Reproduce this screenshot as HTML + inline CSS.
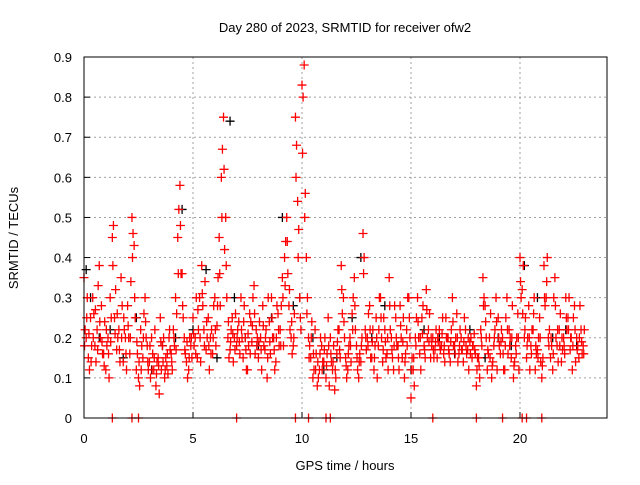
<!DOCTYPE html>
<html><head><meta charset="utf-8"><style>
body{margin:0;background:#fff;width:640px;height:480px;overflow:hidden}
svg{font-family:"Liberation Sans",sans-serif;font-size:13px}
</style></head><body>
<svg id="chart" width="640" height="480">
<text x="345" y="32" text-anchor="middle">Day 280 of 2023, SRMTID for receiver ofw2</text>
<text x="345" y="470" text-anchor="middle">GPS time / hours</text>
<text transform="translate(18,238) rotate(-90)" text-anchor="middle">SRMTID / TECUs</text>
<g id="grid"></g>
<g id="ticks"></g>
<g id="marks"></g>
<rect x="84" y="57" width="523" height="361" fill="none" stroke="#000"/>
</svg>
<script>
const xTicks=[0,5,10,15,20];
const yTicks=[0,0.1,0.2,0.3,0.4,0.5,0.6,0.7,0.8,0.9];
const yTickLabels=["0","0.1","0.2","0.3","0.4","0.5","0.6","0.7","0.8","0.9"];
const redA=[0.35,0.2,0.15,0.25,0.3,0.18,0.22,0.38,0.28,0.16,
0.12,0.2,0.3,0.45,0.25,0.17,0.22,0.35,0.14,0.2,
0.28,0.16,0.5,0.43,0.12,0.1,0.22,0.15,0.3,0.18,
0.14,0.2,0.12,0.08,0.15,0.25,0.18,0.1,0.13,0.2,
0.16,0.22,0.3,0.45,0.58,0.36,0.2,0.14,0.12,0.18,
0.25,0.2,0.15,0.3,0.38,0.22,0.17,0.25,0.2,0.16,
0.3,0.23,0.45,0.6,0.75,0.5,0.2,0.17,0.25,0.2,
0.18,0.24,0.3,0.15,0.2,0.12,0.26,0.19,0.33,0.22,
0.15,0.2,0.28,0.17,0.1,0.24,0.3,0.2,0.14,0.26,
0.22,0.35,0.4,0.5,0.28,0.2,0.18,0.75,0.54,0.3,
0.83,0.88,0.4,0.2,0.15,0.1,0.22,0.08,0.12,0.18,
0.14,0.1,0.25,0.2,0.12,0.07,0.16,0.22,0.38,0.3,
0.15,0.12,0.2,0.26,0.35,0.18,0.1,0.14,0.46,0.22,
0.2,0.28,0.15,0.12,0.25,0.18,0.3,0.14,0.22,0.16,
0.35,0.2,0.12,0.25,0.18,0.28,0.15,0.1,0.22,0.3,
0.05,0.12,0.2,0.3,0.16,0.25,0.18,0.32,0.22,0.15,
0.2,0.17,0.15,0.22,0.18,0.16,0.25,0.2,0.14,0.3,
0.18,0.26,0.16,0.2,0.14,0.22,0.17,0.19,0.15,0.21,
0.08,0.15,0.22,0.35,0.28,0.12,0.2,0.1,0.18,0.3,
0.25,0.16,0.2,0.12,0.3,0.22,0.15,0.1,0.18,0.26,
0.4,0.32,0.2,0.15,0.28,0.18,0.22,0.12,0.17,0.25,
0.1,0.38,0.3,0.2,0.15,0.12,0.35,0.18,0.22,0.14,
0.2,0.3,0.25,0.17,0.12,0.28,0.2,0.15,0.22,0.18];
const redB=[0.22,0.3,0.12,0.18,0.26,0.14,0.33,0.2,0.16,0.24,
0.18,0.1,0.25,0.48,0.32,0.2,0.14,0.28,0.22,0.12,
0.2,0.34,0.46,0.25,0.16,0.08,0.18,0.26,0.2,0.12,
0.1,0.16,0.22,0.14,0.06,0.12,0.2,0.15,0.11,0.17,
0.12,0.18,0.26,0.52,0.36,0.25,0.16,0.1,0.2,0.15,
0.18,0.3,0.22,0.14,0.28,0.34,0.2,0.12,0.22,0.28,
0.18,0.35,0.28,0.67,0.42,0.3,0.15,0.22,0.14,0.26,
0.22,0.16,0.2,0.28,0.12,0.18,0.24,0.3,0.16,0.2,
0.24,0.12,0.18,0.22,0.3,0.16,0.2,0.12,0.28,0.18,
0.28,0.18,0.44,0.36,0.22,0.16,0.26,0.68,0.47,0.22,
0.8,0.56,0.3,0.18,0.24,0.12,0.16,0.1,0.2,0.14,
0.2,0.16,0.08,0.14,0.18,0.1,0.22,0.15,0.26,0.2,
0.1,0.18,0.14,0.3,0.22,0.12,0.16,0.2,0.4,0.17,
0.26,0.15,0.22,0.18,0.1,0.3,0.2,0.25,0.15,0.12,
0.22,0.15,0.28,0.18,0.12,0.2,0.25,0.16,0.3,0.2,
0.15,0.08,0.25,0.2,0.12,0.28,0.15,0.2,0.26,0.18,
0.15,0.22,0.19,0.17,0.25,0.14,0.2,0.16,0.22,0.18,
0.2,0.14,0.22,0.17,0.25,0.16,0.12,0.2,0.18,0.16,
0.15,0.1,0.18,0.3,0.2,0.16,0.26,0.14,0.22,0.12,
0.18,0.22,0.12,0.25,0.16,0.2,0.28,0.14,0.2,0.12,
0.3,0.38,0.25,0.2,0.12,0.22,0.3,0.16,0.2,0.14,
0.15,0.28,0.4,0.22,0.18,0.3,0.2,0.14,0.26,0.17,
0.16,0.22,0.3,0.2,0.25,0.14,0.18,0.28,0.16,0.22];
const redC=[0.18,0.25,0.21,0.14,0.2,0.27,0.17,0.24,0.19,0.13,
0.22,0.16,0.19,0.38,0.21,0.26,0.17,0.2,0.25,0.16,
0.23,0.2,0.4,0.3,0.19,0.14,0.12,0.2,0.24,0.14,
0.18,0.12,0.15,0.11,0.13,0.19,0.14,0.12,0.16,0.22,
0.14,0.2,0.17,0.36,0.48,0.28,0.17,0.19,0.15,0.2,
0.21,0.16,0.27,0.2,0.31,0.18,0.24,0.18,0.16,0.2,
0.22,0.28,0.36,0.5,0.62,0.38,0.24,0.19,0.21,0.17,
0.2,0.19,0.22,0.24,0.17,0.21,0.16,0.23,0.26,0.18,
0.19,0.17,0.23,0.2,0.15,0.19,0.25,0.17,0.2,0.22,
0.18,0.3,0.33,0.44,0.32,0.24,0.2,0.6,0.4,0.25,
0.66,0.5,0.26,0.15,0.2,0.16,0.12,0.14,0.16,0.12,
0.17,0.13,0.18,0.16,0.14,0.12,0.19,0.17,0.32,0.24,
0.13,0.16,0.18,0.22,0.28,0.15,0.14,0.18,0.36,0.2,
0.18,0.22,0.19,0.15,0.2,0.22,0.25,0.17,0.19,0.2,
0.28,0.17,0.18,0.2,0.15,0.23,0.19,0.14,0.18,0.25,
0.12,0.15,0.18,0.24,0.2,0.21,0.17,0.27,0.19,0.2,
0.17,0.19,0.2,0.18,0.21,0.18,0.2,0.17,0.19,0.24,
0.16,0.2,0.18,0.17,0.19,0.18,0.2,0.16,0.18,0.17,
0.12,0.13,0.2,0.28,0.24,0.17,0.15,0.13,0.2,0.24,
0.2,0.19,0.16,0.18,0.22,0.18,0.2,0.13,0.16,0.2,
0.34,0.26,0.22,0.18,0.2,0.16,0.26,0.18,0.15,0.2,
0.13,0.3,0.34,0.18,0.2,0.16,0.28,0.22,0.18,0.2,
0.18,0.25,0.22,0.2,0.18,0.22,0.17,0.2,0.19,0.16];
const blackT=[0.1,0.3,0.7,1.2,1.8,2.4,3.1,3.6,4.2,4.5,5.0,5.6,6.1,6.7,6.9,7.4,8.0,8.6,9.1,9.6,9.9,10.5,11.0,11.6,12.3,12.7,13.2,13.8,14.4,15.0,15.6,16.3,17.0,17.7,18.4,19.0,19.6,20.2,20.8,21.5,22.1,22.6];
const blackV=[0.37,0.3,0.2,0.22,0.15,0.25,0.12,0.18,0.2,0.52,0.22,0.37,0.15,0.74,0.3,0.2,0.18,0.25,0.5,0.28,0.3,0.2,0.12,0.15,0.25,0.4,0.2,0.28,0.18,0.12,0.22,0.2,0.16,0.22,0.15,0.2,0.18,0.38,0.3,0.2,0.22,0.18];
const zeroT=[1.3,2.2,2.5,7.0,9.7,10.3,11.1,11.3,16.0,18.0,19.2,20.1,20.3,21.0];
const X=t=>84+t*21.8, Y=v=>418-v*401.1;
const NS="http://www.w3.org/2000/svg";
const grid=document.getElementById('grid'),ticks=document.getElementById('ticks'),marks=document.getElementById('marks');
function mk(tag,attrs,parent){const e=document.createElementNS(NS,tag);for(const k in attrs)e.setAttribute(k,attrs[k]);parent.appendChild(e);return e;}
xTicks.forEach(t=>{
 if(t>0){const g=mk('line',{x1:X(t),x2:X(t),y1:57,y2:418,stroke:'#a0a0a0','stroke-dasharray':'2,3'},grid);
 
 }
 const l=mk('text',{x:X(t),y:443,'text-anchor':'middle'},ticks);l.textContent=t;
 
 
 mk('line',{x1:X(t),x2:X(t),y1:418,y2:412,stroke:'#000'},ticks);
});
yTicks.forEach((v,i)=>{
 if(v>0&&v<0.9){const g=mk('line',{x1:84,x2:607,y1:Y(v),y2:Y(v),stroke:'#a0a0a0','stroke-dasharray':'2,3'},grid);
 
 }
 const l=mk('text',{x:72,y:Y(v)+5,'text-anchor':'end'},ticks);l.textContent=yTickLabels[i];
 
 
 mk('line',{x1:84,x2:90,y1:Y(v),y2:Y(v),stroke:'#000'},ticks);
});
function plus(t,v,c){const x=X(t),y=Y(v);
 const p=mk('path',{d:`M${x-4.5} ${y}H${x+4.5}M${x} ${y-4.5}V${y+4.5}`,stroke:c,'stroke-width':1.3,fill:'none'},marks);
 
 }
blackT.forEach((t,i)=>plus(t,blackV[i],'#000'));
redA.forEach((v,i)=>plus(i*0.1,v,'#f00'));
redB.forEach((v,i)=>plus(i*0.1+0.05,v,'#f00'));
redC.forEach((v,i)=>plus(i*0.1+0.025,v,'#f00'));
zeroT.forEach(t=>plus(t,0,'#f00'));
</script>
</body></html>
